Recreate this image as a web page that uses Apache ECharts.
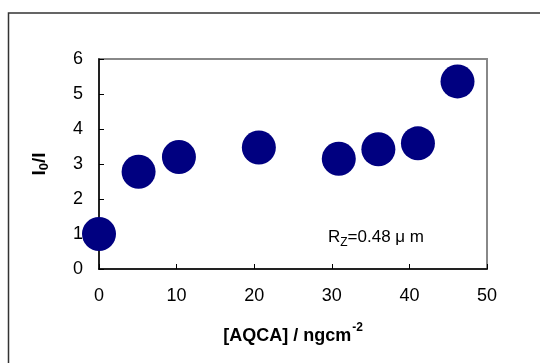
<!DOCTYPE html>
<html>
<head>
<meta charset="utf-8">
<script src="https://cdn.jsdelivr.net/npm/echarts@6/dist/echarts.min.js"></script>
<style>
html,body{margin:0;padding:0;background:#fff;}
#c{width:540px;height:363px;}
</style>
</head>
<body>
<div id="c"></div>
<script>
var xValues = [0, 5.1, 10.3, 20.6, 30.9, 36.0, 41.1, 46.2];
var yValues = [1.0, 2.78, 3.2, 3.47, 3.15, 3.42, 3.59, 5.36];
var xTicks = [0, 10, 20, 30, 40, 50];
var yTicks = [0, 1, 2, 3, 4, 5, 6];

var pts = xValues.map(function (x, i) { return [x, yValues[i]]; });
var chart = echarts.init(document.getElementById('c'), null, {renderer: 'canvas'});
var font = 'Liberation Sans, Arial, sans-serif';
chart.setOption({
  animation: false,
  grid: {left: 99, right: 53, top: 59, bottom: 94, show: true, borderColor: '#888', borderWidth: 2, backgroundColor: 'transparent'},
  xAxis: {
    type: 'value', min: xTicks[0], max: xTicks[xTicks.length - 1], interval: xTicks[1] - xTicks[0],
    axisLine: {show: true, onZero: false, lineStyle: {color: '#000', width: 1.5}},
    axisTick: {show: true, inside: true, length: 5, lineStyle: {color: '#000'}},
    splitLine: {show: false},
    axisLabel: {color: '#000', fontSize: 18, fontFamily: font, margin: 18},
    name: '{b|[AQCA] / ngcm}{sup|-2}',
    nameLocation: 'middle', nameGap: 53,
    nameTextStyle: {
      rich: {
        b: {fontSize: 18, fontWeight: 'bold', fontFamily: font, color: '#000', verticalAlign: 'bottom'},
        sup: {fontSize: 12, fontWeight: 'bold', fontFamily: font, color: '#000', verticalAlign: 'top', padding: [0, 0, 11, 1]}
      }
    }
  },
  yAxis: {
    type: 'value', min: yTicks[0], max: yTicks[yTicks.length - 1], interval: yTicks[1] - yTicks[0],
    axisLine: {show: true, onZero: false, lineStyle: {color: '#000', width: 1.5}},
    axisTick: {show: true, inside: true, length: 5, lineStyle: {color: '#000'}},
    splitLine: {show: false},
    axisLabel: {color: '#000', fontSize: 18, fontFamily: font, margin: 16},
    name: '{b|I}{sub|0}{b|/I}',
    nameLocation: 'middle', nameGap: 48, nameRotate: 90,
    nameTextStyle: {
      rich: {
        b: {fontSize: 19, fontWeight: 'bold', fontFamily: font, color: '#000'},
        sub: {fontSize: 13, fontWeight: 'bold', fontFamily: font, color: '#000', padding: [9, 0, 0, 0]}
      }
    }
  },
  series: [{
    type: 'scatter',
    data: pts,
    symbol: 'circle',
    symbolSize: 34,
    itemStyle: {color: '#000080', opacity: 1},
    z: 5
  }],
  graphic: [
    {type: 'rect', shape: {x: 8.5, y: 13, width: 600, height: 400}, style: {fill: 'none', stroke: '#333', lineWidth: 1.5}, silent: true},
    {type: 'text', left: 328, top: 229, style: {text: '{a|R}{s|Z}{a|=0.48 μ m}', rich: {
      a: {fontSize: 17, fontFamily: font, fill: '#000', color: '#000'},
      s: {fontSize: 12, fontFamily: font, fill: '#000', color: '#000', padding: [10, 0, 0, 0]}
    }}}
  ]
});
</script>
</body>
</html>
